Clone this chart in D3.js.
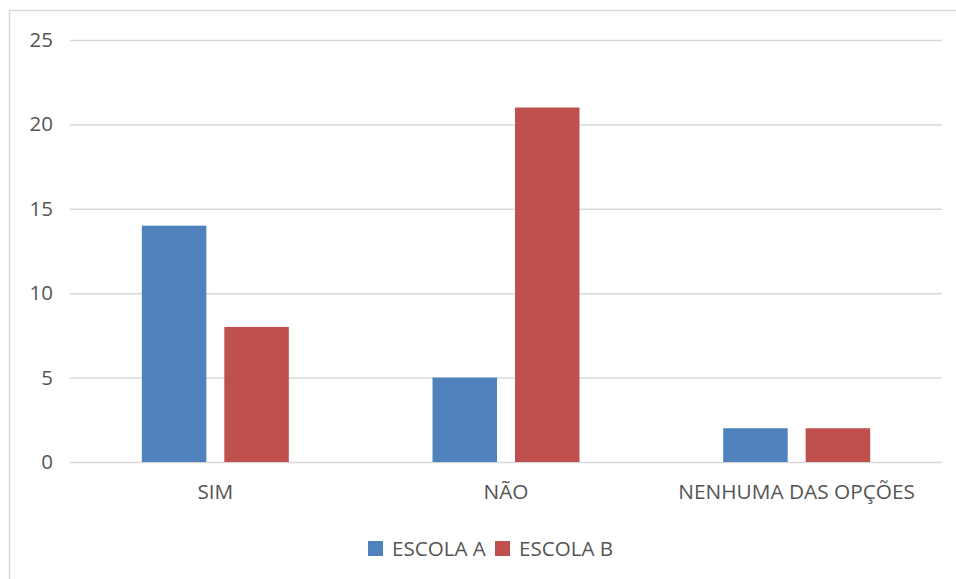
<html>
<head><meta charset="utf-8"></head>
<script src="https://cdnjs.cloudflare.com/ajax/libs/d3/7.8.5/d3.min.js"></script>
<body style="margin:0;background:#fff">
<svg id="chart" width="956" height="579"></svg>
<script>
var categories = ["SIM", "NÃO", "NENHUMA DAS OPÇÕES"];
var series = ["ESCOLA A", "ESCOLA B"];
var escolaA = [14, 5, 2];
var escolaB = [8, 21, 2];
var yTicks = [0, 5, 10, 15, 20, 25];
var colors = ["#4F81BD", "#C0504D"];

var svg = d3.select("#chart");
var font = "'Open Sans', sans-serif";
var textColor = "#555555";

// chart frame (runs past the right and bottom edge)
svg.append("rect")
    .attr("x", 9.5).attr("y", 10.5)
    .attr("width", 960).attr("height", 600)
    .attr("fill", "none")
    .attr("stroke", "#D9D9D9")
    .attr("stroke-width", 1.5);

var plotLeft = 70, plotRight = 942, plotTop = 40, plotBottom = 462;

var y = d3.scaleLinear().domain([0, 25]).range([plotBottom, plotTop]);
var x0 = d3.scaleBand().domain(categories).range([plotLeft, plotRight]);
var x1 = d3.scaleBand().domain(series).range([0, x0.bandwidth()])
    .paddingInner(0.218).paddingOuter(0.871);

// gridlines
svg.append("g")
    .attr("transform", "translate(" + plotLeft + ",0)")
    .call(d3.axisLeft(y).tickValues(yTicks).tickSize(-(plotRight - plotLeft)).tickFormat(""))
    .call(function(g) {
        g.select(".domain").remove();
        g.selectAll("line").attr("stroke", "#D9D9D9").attr("stroke-width", 1.5);
    });

// y tick labels
svg.append("g")
    .attr("transform", "translate(" + plotLeft + ",0)")
    .call(d3.axisLeft(y).tickValues(yTicks).tickSize(0).tickPadding(17))
    .call(function(g) {
        g.select(".domain").remove();
        g.selectAll("text").attr("fill", textColor)
            .style("font-family", font).style("font-size", "20.5px");
    });

var rows = categories.map(function(c, i) {
    return { cat: c, values: [escolaA[i], escolaB[i]] };
});

svg.append("g").selectAll("g")
    .data(rows)
    .enter().append("g")
    .attr("transform", function(d) { return "translate(" + x0(d.cat) + ",0)"; })
    .selectAll("rect")
    .data(function(d) { return d.values.map(function(v, j) { return { s: series[j], v: v, j: j }; }); })
    .enter().append("rect")
    .attr("x", function(d) { return x1(d.s); })
    .attr("width", x1.bandwidth())
    .attr("y", function(d) { return y(d.v); })
    .attr("height", function(d) { return y(0) - y(d.v); })
    .attr("fill", function(d) { return colors[d.j]; });

// category labels
svg.append("g")
    .attr("transform", "translate(0," + plotBottom + ")")
    .call(d3.axisBottom(x0).tickSize(0).tickPadding(22))
    .call(function(g) {
        g.select(".domain").remove();
        g.selectAll("text").attr("fill", textColor)
            .style("font-family", font).style("font-size", "20.8px");
    });

// legend
var legend = svg.append("g").style("font-family", font).style("font-size", "20.6px");
var lx = [368, 495];
series.forEach(function(s, i) {
    legend.append("rect").attr("x", lx[i]).attr("y", 541).attr("width", 15).attr("height", 15)
        .attr("fill", colors[i]);
    legend.append("text").attr("x", lx[i] + 24).attr("y", 556).attr("fill", textColor).text(s);
});
</script>
</body>
</html>
